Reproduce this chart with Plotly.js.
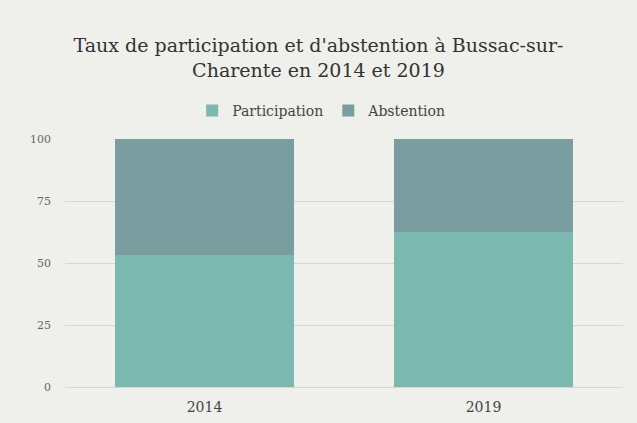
<!DOCTYPE html>
<html>
<head>
<meta charset="utf-8">
<script src="https://cdn.plot.ly/plotly-3.0.1.min.js"></script>
<style>html,body{margin:0;padding:0;background:#efefeb;}</style>
</head>
<body>
<div id="chart" style="width:637px;height:423px;"></div>
<script>
var years = ["2014", "2019"];
var participation = [53.2, 62.6];
var abstention = [46.8, 37.4];
var seriesNames = ["Participation", "Abstention"];
var titleText = "Taux de participation et d'abstention à Bussac-sur-<br>Charente en 2014 et 2019";

var font = "DejaVu Serif, serif";
var traces = [
  {type: "bar", x: years, y: participation, name: seriesNames[0],
   marker: {color: "#7ab8b0"}, hoverinfo: "y"},
  {type: "bar", x: years, y: abstention, name: seriesNames[1],
   marker: {color: "#7a9e9f"}, hoverinfo: "y"}
];
var layout = {
  width: 637, height: 423,
  paper_bgcolor: "#efefeb", plot_bgcolor: "#efefeb",
  barmode: "stack", bargap: 0.36,
  font: {family: font, color: "#444"},
  title: {text: titleText, x: 0.5, xanchor: "center", y: 0.877, yanchor: "top",
          font: {family: font, size: 19, color: "#333"}},
  legend: {orientation: "h", x: 0.46, xanchor: "center", y: 1.113, yanchor: "middle",
           font: {family: font, size: 14, color: "#444"}, traceorder: "normal"},
  margin: {l: 65, r: 14, t: 139, b: 36},
  xaxis: {tickfont: {family: font, size: 14, color: "#444"}, showgrid: false,
          showline: false, ticks: "", ticklabelstandoff: 10},
  yaxis: {range: [0, 100], tickvals: [0, 25, 50, 75, 100], showgrid: true,
          gridcolor: "#d6d6d2", gridwidth: 1, zeroline: true, zerolinecolor: "#d6d6d2",
          tickfont: {family: font, size: 11, color: "#666"}, ticks: "", ticklabelstandoff: 13}
};
Plotly.newPlot("chart", traces, layout, {displayModeBar: false});
</script>
</body>
</html>
